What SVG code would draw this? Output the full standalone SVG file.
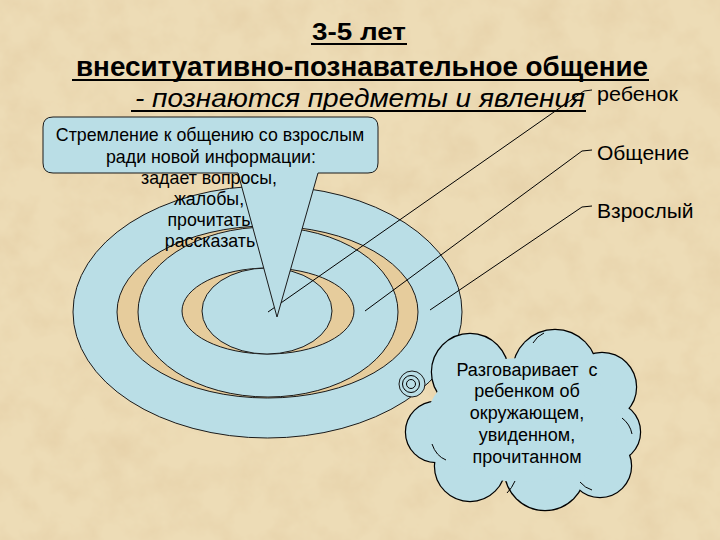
<svg xmlns="http://www.w3.org/2000/svg" width="720" height="540" viewBox="0 0 720 540">
<defs>
<filter id="paper" x="0" y="0" width="100%" height="100%">
<feTurbulence type="fractalNoise" baseFrequency="0.03" numOctaves="4" seed="7"/>
<feColorMatrix type="matrix" values="0 0 0 0 0.78  0 0 0 0 0.62  0 0 0 0 0.38  1.3 0 0 0 -0.5"/>
</filter>
<style>
.t{font-family:"Liberation Sans",Arial,sans-serif;fill:#000}
.blue{fill:#badee6;stroke:#1a1a1a;stroke-width:1}
.gap{fill:#e6cc9c;stroke:#1a1a1a;stroke-width:1}
.ln{fill:none;stroke:#000;stroke-width:1}
.ul{stroke:#000;stroke-width:2.2}
.cs{fill:#badee6;stroke:#000;stroke-width:2.4}
.cf{fill:#badee6;stroke:none}
</style>
</defs>
<rect width="720" height="540" fill="#eddcb6"/>
<rect width="720" height="540" filter="url(#paper)"/>

<g id="title">
<text class="t" x="312" y="40" font-size="23" font-weight="bold" textLength="94" lengthAdjust="spacingAndGlyphs">3-5 лет</text>
<line class="ul" x1="311" y1="44" x2="407" y2="44"/>
<text class="t" x="76" y="76" font-size="28" font-weight="bold" textLength="572" lengthAdjust="spacingAndGlyphs">внеситуативно-познавательное общение</text>
<line class="ul" x1="72" y1="80" x2="649" y2="80"/>
<text class="t" x="135" y="107" font-size="25" font-style="italic" textLength="450" lengthAdjust="spacingAndGlyphs">- познаются предметы и явления</text>
<line class="ul" x1="131" y1="111" x2="586" y2="111"/>
</g>

<g id="rings">
<ellipse class="blue" cx="267.5" cy="312" rx="194.5" ry="126"/>
<ellipse class="gap" cx="267.5" cy="312" rx="150.5" ry="86"/>
<ellipse class="blue" cx="268" cy="312" rx="130" ry="85"/>
<ellipse class="gap" cx="268" cy="311" rx="86" ry="43"/>
<ellipse class="blue" cx="267" cy="311" rx="65" ry="43"/>
</g>

<g id="connectors">
<polyline class="ln" points="592,90 584,91 268,312"/>
<polyline class="ln" points="592,150 582,151 365,311"/>
<polyline class="ln" points="592,206 582,207 430,310"/>
</g>

<g id="callout">
<path class="blue" d="M53,117 H368 Q378,117 378,127 V163 Q378,173 368,173 H318 L277,317 L238,173 H53 Q43,173 43,163 V127 Q43,117 53,117 Z"/>
<g class="t" font-size="17.8" text-anchor="middle">
<text x="210" y="141">Стремление к общению со взрослым</text>
<text x="211" y="163">ради новой информации:</text>
<text x="209" y="184">задает вопросы,</text>
<text x="209" y="205">жалобы,</text>
<text x="209" y="226">прочитать</text>
<text x="210" y="247">рассказать</text>
</g>
</g>

<g id="cloud">
<g class="cs">
<circle cx="436" cy="432" r="30"/>
<circle cx="470" cy="372" r="38"/>
<circle cx="555" cy="372" r="42"/>
<circle cx="602" cy="387" r="34"/>
<circle cx="610" cy="432" r="30"/>
<circle cx="600" cy="466" r="31"/>
<circle cx="545" cy="470" r="40"/>
<circle cx="470" cy="466" r="35"/>
</g>
<g class="cf">
<circle cx="436" cy="432" r="30"/>
<circle cx="470" cy="372" r="38"/>
<circle cx="555" cy="372" r="42"/>
<circle cx="602" cy="387" r="34"/>
<circle cx="610" cy="432" r="30"/>
<circle cx="600" cy="466" r="31"/>
<circle cx="545" cy="470" r="40"/>
<circle cx="470" cy="466" r="35"/>
<ellipse cx="522" cy="420" rx="95" ry="62"/>
</g>
<g class="ln">
<path d="M432,444 Q436,456 446,460"/>
<path d="M507,493 Q512,488 515,481"/>
<path d="M580,482 Q585,488 592,490"/>
<path d="M622,418 Q630,424 632,434"/>
<path d="M533,343 Q537,336 544,333"/>
</g>
<circle class="blue" cx="412" cy="384" r="13"/>
<circle class="ln" cx="411" cy="384" r="8.5"/>
<circle class="ln" cx="411" cy="384" r="4.5"/>
<g class="t" font-size="18" text-anchor="middle">
<text x="527" y="376" xml:space="preserve">Разговаривает  с</text>
<text x="527" y="397">ребенком об</text>
<text x="527" y="419">окружающем,</text>
<text x="527" y="441">увиденном,</text>
<text x="527" y="463">прочитанном</text>
</g>
</g>

<g id="labels" class="t">
<text x="597" y="101" font-size="20" textLength="81" lengthAdjust="spacingAndGlyphs">ребенок</text>
<text x="597" y="160" font-size="21">Общение</text>
<text x="597" y="218" font-size="21">Взрослый</text>
</g>
</svg>
